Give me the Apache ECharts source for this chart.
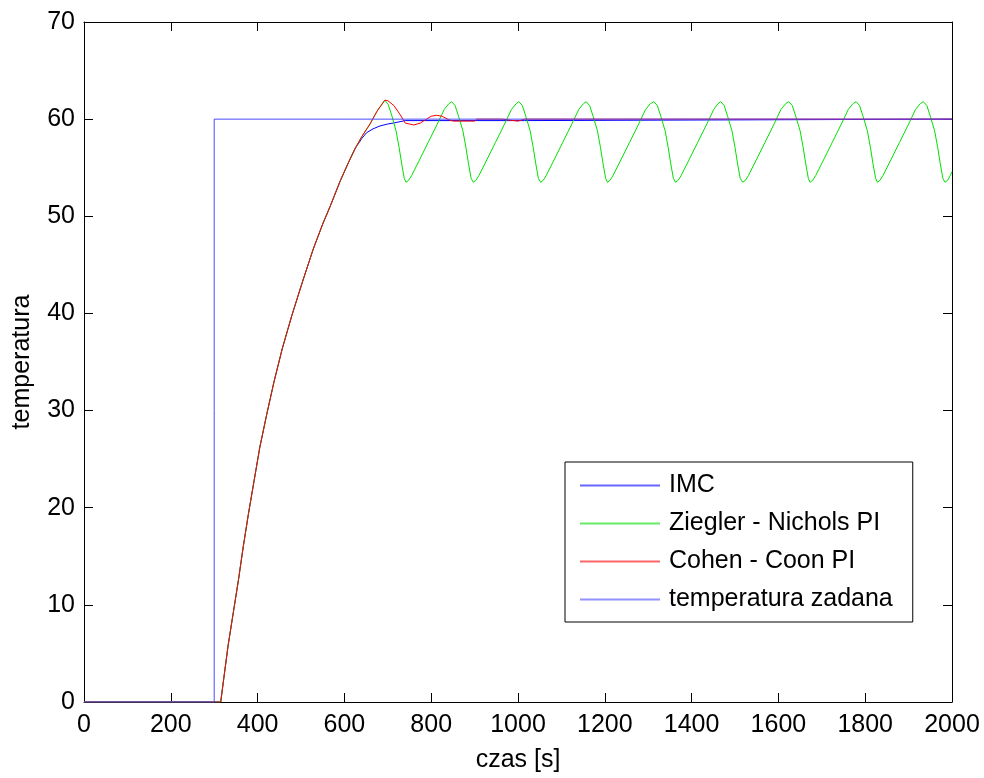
<!DOCTYPE html>
<html lang="pl">
<head>
    <meta charset="utf-8">
    <title>temperatura</title>
    <script src="https://cdn.jsdelivr.net/npm/echarts@6/dist/echarts.min.js"></script>
    <style>
        html, body { margin: 0; padding: 0; background: #fff; }
    </style>
</head>
<body>
<div id="chart" style="width:984px; height:778px;"></div>

<script>
    // tick values
    var xTicks = [0, 200, 400, 600, 800, 1000, 1200, 1400, 1600, 1800, 2000];
    var yTicks = [0, 10, 20, 30, 40, 50, 60, 70];

    var seriesNames = ['IMC', 'Ziegler - Nichols PI', 'Cohen - Coon PI', 'temperatura zadana'];
    var seriesColors = ['#0000ff', '#00e000', '#ff0000', '#4a4aff'];

    // wspolny odcinek narastania (wszystkie trzy regulatory) [t, T]
    var riseCommon = [
        [0, 0], [315, 0], [322, 2.4], [332, 5.8], [344, 9.2], [356, 12.6], [367, 16.0],
        [379, 19.4], [392, 22.8], [405, 26.2], [421, 29.6], [438, 33.0], [457, 36.4],
        [479, 39.8], [503, 43.2], [528, 46.6], [550, 49.2], [567, 51.0], [590, 53.6],
        [610, 55.6], [625, 57.0]
    ];

    var imcTail = [
        [640, 58.0], [651, 58.6], [666, 59.0], [682, 59.3], [700, 59.5], [713, 59.6],
        [740, 59.85], [1015, 59.85], [1018, 60], [2000, 60]
    ];

    var cohenTail = [
        [640, 58.2], [659, 59.5], [675, 60.8], [693, 61.95], [700, 61.9], [714, 61.4],
        [728, 60.5], [740, 59.6], [760, 59.4], [775, 59.6], [789, 60.0], [800, 60.3],
        [812, 60.4], [825, 60.3], [840, 59.95], [851, 59.8], [900, 59.8], [905, 60],
        [963, 60], [966, 59.8], [1000, 59.8], [1015, 60], [2000, 60]
    ];

    var zieglerTail = [
        [640, 58.2], [659, 59.5], [675, 60.8],
        [693, 61.95], [701, 61.5], [709, 60.4], [719, 58.8], [726, 57.1], [732, 55.4], [738, 53.9],
        [742, 53.5], [748, 53.7], [755, 54.2], [773, 55.8], [793, 57.6], [813, 59.4], [830, 61.0], [841, 61.6],
        [847, 61.8], [855, 61.4], [863, 60.3], [873, 58.8], [880, 57.1], [886, 55.4], [892, 53.9],
        [897, 53.5], [903, 53.7], [910, 54.2], [928, 55.8], [948, 57.6], [968, 59.4], [985, 61.0], [996, 61.6],
        [1002, 61.8], [1010, 61.4], [1018, 60.3], [1028, 58.8], [1035, 57.1], [1041, 55.4], [1047, 53.9],
        [1052, 53.5], [1058, 53.7], [1065, 54.2], [1083, 55.8], [1103, 57.6], [1123, 59.4], [1140, 61.0], [1151, 61.6],
        [1157, 61.8], [1165, 61.4], [1173, 60.3], [1183, 58.8], [1190, 57.1], [1196, 55.4], [1202, 53.9],
        [1206, 53.5], [1212, 53.7], [1219, 54.2], [1237, 55.8], [1257, 57.6], [1277, 59.4], [1294, 61.0], [1305, 61.6],
        [1313, 61.8], [1321, 61.4], [1329, 60.3], [1339, 58.8], [1346, 57.1], [1352, 55.4], [1358, 53.9],
        [1363, 53.5], [1369, 53.7], [1376, 54.2], [1394, 55.8], [1414, 57.6], [1434, 59.4], [1451, 61.0], [1461, 61.6],
        [1467, 61.8], [1475, 61.4], [1483, 60.3], [1493, 58.8], [1500, 57.1], [1506, 55.4], [1512, 53.9],
        [1518, 53.5], [1524, 53.7], [1531, 54.2], [1549, 55.8], [1569, 57.6], [1589, 59.4], [1606, 61.0], [1617, 61.6],
        [1624, 61.8], [1632, 61.4], [1640, 60.3], [1650, 58.8], [1657, 57.1], [1663, 55.4], [1669, 53.9],
        [1673, 53.5], [1679, 53.7], [1686, 54.2], [1704, 55.8], [1724, 57.6], [1744, 59.4], [1761, 61.0], [1772, 61.6],
        [1779, 61.8], [1787, 61.4], [1795, 60.3], [1805, 58.8], [1812, 57.1], [1818, 55.4], [1824, 53.9],
        [1828, 53.5], [1834, 53.7], [1841, 54.2], [1859, 55.8], [1879, 57.6], [1899, 59.4], [1916, 61.0], [1927, 61.6],
        [1934, 61.8], [1942, 61.4], [1950, 60.3], [1960, 58.8], [1967, 57.1], [1973, 55.4], [1979, 53.9],
        [1984, 53.5], [1990, 53.7], [1996, 54.2], [2000, 54.6]
    ];

    var setpoint = [[0, 0], [300, 0], [300, 60], [2000, 60]];

    var font = "'Liberation Sans', Arial, sans-serif";

    function axisBase(min, max, step, pos, showLabel) {
        return {
            type: 'value',
            position: pos,
            min: min,
            max: max,
            interval: step,
            axisLine: { show: true, onZero: false, lineStyle: { color: '#000', width: 1 } },
            axisTick: { show: true, inside: true, length: 9, lineStyle: { color: '#000' } },
            axisLabel: {
                show: showLabel, color: '#000', fontSize: 25, fontFamily: font,
                formatter: function (v) { return String(v); }   // bez separatora tysiecy
            },
            splitLine: { show: false }
        };
    }

    var chart = echarts.init(document.getElementById('chart'));

    var xBottom = axisBase(xTicks[0], xTicks[xTicks.length - 1], 200, 'bottom', true);
    xBottom.axisLabel.margin = 11;
    xBottom.name = 'czas [s]';
    xBottom.nameLocation = 'middle';
    xBottom.nameGap = 46;
    xBottom.nameTextStyle = { color: '#000', fontSize: 25, fontFamily: font };

    var yLeft = axisBase(yTicks[0], yTicks[yTicks.length - 1], 10, 'left', true);
    yLeft.axisLabel.margin = 9;
    yLeft.name = 'temperatura';
    yLeft.nameLocation = 'middle';
    yLeft.nameGap = 49;
    yLeft.nameRotate = 90;
    yLeft.nameTextStyle = { color: '#000', fontSize: 25, fontFamily: font };

    // cienka kreska w legendzie, bez kolek
    var lineIcon = 'path://M0,0 L80,0 L80,2 L0,2 Z';
    var legendData = seriesNames.map(function (n, i) {
        return {
            name: n,
            icon: lineIcon,
            itemStyle: { color: seriesColors[i], opacity: 0.6, borderWidth: 0 }
        };
    });

    chart.setOption({
        animation: false,
        backgroundColor: '#fff',
        grid: { left: 84, right: 32, top: 22, bottom: 71, containLabel: false },
        legend: {
            data: legendData,
            orient: 'vertical',
            left: 565,
            top: 462,
            padding: [11, 20, 10, 15],
            itemWidth: 80,
            itemHeight: 2,
            itemGap: 13,
            borderColor: '#000',
            borderWidth: 1,
            backgroundColor: '#fff',
            textStyle: { color: '#000', fontSize: 25, lineHeight: 25, fontFamily: font, padding: [0, 0, 0, 4] }
        },
        xAxis: [xBottom, axisBase(0, 2000, 200, 'top', false)],
        yAxis: [yLeft, axisBase(0, 70, 10, 'right', false)],
        series: seriesNames.map(function (n, i) {
            var data = [riseCommon.concat(imcTail), riseCommon.concat(zieglerTail),
                        riseCommon.concat(cohenTail), setpoint][i];
            return {
                name: n, type: 'line', symbol: 'none', data: data,
                lineStyle: { color: seriesColors[i], width: 1 },
                itemStyle: { color: seriesColors[i] }
            };
        })
    });
</script>
</body>
</html>
